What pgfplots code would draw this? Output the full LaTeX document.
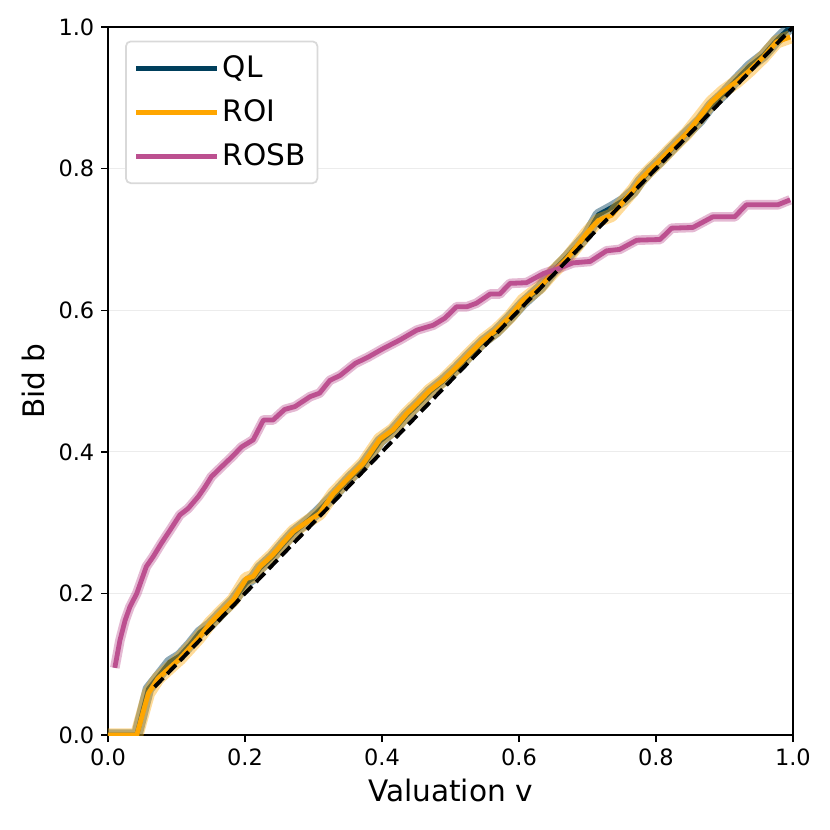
\documentclass[border=0pt]{standalone}
\usepackage{pgfplots}
\pgfplotsset{compat=1.18}
\usepackage{pgfplotstable}
\usepackage{fontspec}
\setmainfont{DejaVu Sans}
\definecolor{QLc}{HTML}{003F5C}
\definecolor{ROIc}{HTML}{FFA600}
\definecolor{ROSBc}{HTML}{BC5090}

\pgfplotstableread{
v b
0.000 0.000
0.042 0.000
0.059 0.065
0.073 0.082
0.090 0.103
0.105 0.112
0.120 0.128
0.134 0.145
0.149 0.156
0.165 0.172
0.183 0.190
0.202 0.215
0.212 0.222
0.222 0.236
0.240 0.252
0.256 0.270
0.271 0.286
0.295 0.305
0.309 0.318
0.329 0.338
0.353 0.363
0.373 0.382
0.397 0.415
0.416 0.430
0.436 0.452
0.451 0.466
0.470 0.485
0.489 0.500
0.509 0.518
0.528 0.537
0.548 0.556
0.567 0.570
0.587 0.590
0.606 0.610
0.631 0.632
0.650 0.655
0.670 0.675
0.684 0.690
0.699 0.706
0.716 0.735
0.735 0.745
0.752 0.755
0.767 0.768
0.777 0.782
0.791 0.797
0.806 0.811
0.825 0.830
0.845 0.850
0.864 0.868
0.881 0.890
0.898 0.905
0.918 0.926
0.937 0.945
0.957 0.960
0.976 0.981
0.996 1.000
}\QLtable

\pgfplotstableread{
v b
0.000 0.000
0.042 0.000
0.059 0.059
0.073 0.080
0.090 0.095
0.105 0.108
0.120 0.124
0.134 0.139
0.149 0.158
0.165 0.174
0.183 0.191
0.202 0.221
0.212 0.224
0.222 0.238
0.240 0.254
0.256 0.272
0.271 0.288
0.295 0.304
0.309 0.313
0.329 0.341
0.353 0.365
0.373 0.384
0.397 0.418
0.416 0.431
0.436 0.454
0.451 0.468
0.470 0.487
0.489 0.501
0.509 0.520
0.528 0.539
0.548 0.558
0.567 0.572
0.587 0.591
0.606 0.614
0.631 0.633
0.650 0.654
0.670 0.673
0.684 0.690
0.699 0.709
0.716 0.727
0.735 0.734
0.752 0.753
0.767 0.770
0.777 0.784
0.791 0.798
0.806 0.812
0.825 0.831
0.845 0.850
0.864 0.873
0.881 0.894
0.898 0.909
0.918 0.923
0.937 0.939
0.957 0.958
0.976 0.979
0.996 0.986
}\ROItable

\pgfplotstableread{
v b
0.010 0.095
0.0175 0.134
0.025 0.162
0.032 0.181
0.042 0.200
0.056 0.238
0.066 0.252
0.078 0.271
0.091 0.290
0.105 0.311
0.117 0.320
0.132 0.337
0.142 0.351
0.151 0.365
0.168 0.381
0.181 0.393
0.195 0.407
0.212 0.417
0.227 0.445
0.241 0.445
0.258 0.460
0.273 0.464
0.295 0.478
0.309 0.483
0.324 0.501
0.339 0.508
0.361 0.525
0.380 0.534
0.402 0.546
0.426 0.558
0.451 0.572
0.475 0.579
0.492 0.589
0.509 0.605
0.524 0.605
0.538 0.610
0.558 0.623
0.572 0.623
0.587 0.638
0.611 0.639
0.636 0.652
0.655 0.658
0.679 0.667
0.704 0.669
0.728 0.684
0.747 0.686
0.772 0.699
0.806 0.700
0.823 0.716
0.854 0.717
0.883 0.732
0.915 0.732
0.932 0.749
0.978 0.749
0.996 0.756
}\ROSBtable

\begin{document}
\begin{tikzpicture}
\begin{axis}[
  scale only axis,
  width=356.5pt, height=368.5pt,
  xmin=0, xmax=1, ymin=0, ymax=1,
  xtick={0,0.2,0.4,0.6,0.8,1.0},
  ytick={0,0.2,0.4,0.6,0.8,1.0},
  tick pos=left,
  tick align=outside,
  major tick length=3.6pt,
  tick style={black, line width=0.8pt},
  axis line style={black, line width=0.8pt},
  ymajorgrids,
  major grid style={gray!15, line width=0.5pt},
  /pgf/number format/assume math mode=true,
  /pgf/number format/fixed,
  /pgf/number format/fixed zerofill,
  /pgf/number format/precision=1,
  ticklabel style={font=\fontsize{11.7}{14}\selectfont},
  xlabel={Valuation v},
  ylabel={Bid b},
  label style={font=\fontsize{15.4}{18}\selectfont},
  legend style={at={(0.025,0.981)}, anchor=north west,
    draw=black!15, line width=0.9pt, rounded corners=2.5pt,
    font=\fontsize{15.4}{18}\selectfont,
    inner xsep=4pt, inner ysep=5.5pt, row sep=6pt,
    cells={anchor=west}},
  legend image code/.code={
    \draw[line width=2.5pt] (1pt,0pt) -- (31pt,0pt);
    \path (0pt,0pt) -- (42pt,0pt);
  },
]
\addplot[QLc, opacity=0.45, line width=6pt, line join=round, forget plot] table[x=v,y=b] {\QLtable};
\addplot[QLc, line width=2.5pt, line join=round] table[x=v,y=b] {\QLtable};
\addlegendentry{QL}
\addplot[ROIc, opacity=0.4, line width=7pt, line join=round, forget plot] table[x=v,y=b] {\ROItable};
\addplot[ROIc, line width=2.5pt, line join=round] table[x=v,y=b] {\ROItable};
\addlegendentry{ROI}
\addplot[ROSBc, opacity=0.4, line width=5pt, line join=round, forget plot] table[x=v,y=b] {\ROSBtable};
\addplot[ROSBc, line width=2.5pt, line join=round] table[x=v,y=b] {\ROSBtable};
\addlegendentry{ROSB}
\addplot[black, line width=2pt, dash pattern=on 6.5pt off 3pt, forget plot] coordinates {(0.068,0.068) (1,1)};
\end{axis}
\path (current axis.south west) ++(-56.2pt,-49.4pt) rectangle ++(432pt,432pt);
\end{tikzpicture}
\end{document}
